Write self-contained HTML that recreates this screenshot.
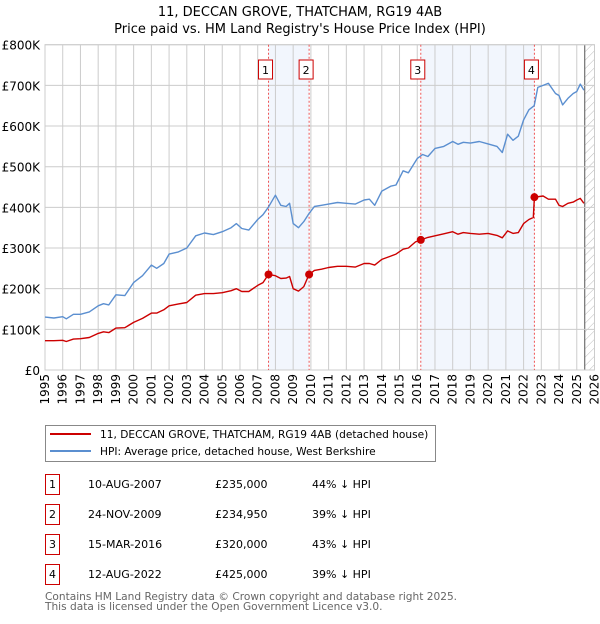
<!DOCTYPE html>
<html><head><meta charset="utf-8"><style>
body{margin:0;background:#fff;font-family:"DejaVu Sans","Liberation Sans",sans-serif}
svg text{font-family:"DejaVu Sans","Liberation Sans",sans-serif}
</style></head><body>
<svg id="chart" width="600" height="620" viewBox="0 0 600 620">
<text x="300" y="16" text-anchor="middle" font-size="13">11, DECCAN GROVE, THATCHAM, RG19 4AB</text>
<text x="300" y="33" text-anchor="middle" font-size="13">Price paid vs. HM Land Registry's House Price Index (HPI)</text>
<g id="g"></g>
<g>
<rect x="45.5" y="425.5" width="390" height="36" fill="#fff" stroke="#888"/>
<line x1="50" y1="434" x2="91" y2="434" stroke="#cc0000" stroke-width="2"/>
<text x="100" y="438" font-size="10.6">11, DECCAN GROVE, THATCHAM, RG19 4AB (detached house)</text>
<line x1="50" y1="451" x2="91" y2="451" stroke="#5b8fd0" stroke-width="2"/>
<text x="100" y="455" font-size="10.6">HPI: Average price, detached house, West Berkshire</text>
</g>
<g id="tbl" font-size="11"></g>
<text x="45" y="600" font-size="10.6" fill="#666">Contains HM Land Registry data © Crown copyright and database right 2025.</text>
<text x="45" y="610" font-size="10.6" fill="#666">This data is licensed under the Open Government Licence v3.0.</text>
</svg>
<script>
const hpiYears=[1995,1995.5,1996,1996.2,1996.6,1997,1997.5,1998,1998.3,1998.6,1999,1999.5,2000,2000.5,2001,2001.3,2001.7,2002,2002.5,2003,2003.5,2004,2004.5,2005,2005.5,2005.8,2006.1,2006.5,2007,2007.3,2007.6,2008,2008.3,2008.6,2008.8,2009,2009.3,2009.6,2009.9,2010.2,2010.6,2011,2011.5,2012,2012.5,2013,2013.3,2013.6,2014,2014.5,2014.8,2015.2,2015.5,2016,2016.3,2016.6,2017,2017.5,2018,2018.3,2018.6,2019,2019.5,2020,2020.5,2020.8,2021.1,2021.4,2021.7,2022,2022.3,2022.6,2022.8,2023.1,2023.4,2023.8,2024,2024.2,2024.5,2024.8,2025,2025.2,2025.4];
const hpiValues=[130,128,131,126,137,137,143,158,163,160,185,183,215,232,258,250,262,285,290,300,330,337,333,340,350,360,348,344,370,382,400,430,405,402,410,360,350,365,385,402,405,408,412,410,408,418,420,405,440,452,455,490,485,520,530,525,545,550,562,555,560,558,562,556,550,535,580,565,575,615,640,650,695,700,705,680,675,652,668,680,685,703,688];
const ppYears=[1995,1995.5,1996,1996.2,1996.6,1997,1997.5,1998,1998.3,1998.6,1999,1999.5,2000,2000.5,2001,2001.3,2001.7,2002,2002.5,2003,2003.5,2004,2004.5,2005,2005.5,2005.8,2006.1,2006.5,2007,2007.3,2007.61,2008,2008.3,2008.6,2008.8,2009,2009.3,2009.6,2009.9,2010.2,2010.6,2011,2011.5,2012,2012.5,2013,2013.3,2013.6,2014,2014.5,2014.8,2015.2,2015.5,2015.9,2016.2,2016.6,2017,2017.5,2018,2018.3,2018.6,2019,2019.5,2020,2020.5,2020.8,2021.1,2021.4,2021.7,2022,2022.3,2022.55,2022.61,2023.1,2023.4,2023.8,2024,2024.2,2024.5,2024.8,2025,2025.2,2025.4];
const ppValues=[72,72,73,70,76,77,80,90,94,92,103,104,117,127,140,140,148,158,162,166,184,188,188,190,195,200,193,193,208,215,235,232,225,226,230,200,194,205,235,245,248,252,255,255,253,262,262,258,272,280,285,297,300,315,320,326,330,335,340,334,338,336,334,336,331,325,342,336,338,360,370,375,425,428,420,420,405,402,410,413,418,422,410];
const saleYears=[2007.61,2009.9,2016.2,2022.61];
const saleValues=[235,234.95,320,425];
const saleDates=["10-AUG-2007","24-NOV-2009","15-MAR-2016","12-AUG-2022"];
const salePrices=["£235,000","£234,950","£320,000","£425,000"];
const saleDiffs=["44% ↓ HPI","39% ↓ HPI","43% ↓ HPI","39% ↓ HPI"];
const yTicks=[0,100,200,300,400,500,600,700,800];
const yTickLabels=["£0","£100K","£200K","£300K","£400K","£500K","£600K","£700K","£800K"];
const xTicks=[1995,1996,1997,1998,1999,2000,2001,2002,2003,2004,2005,2006,2007,2008,2009,2010,2011,2012,2013,2014,2015,2016,2017,2018,2019,2020,2021,2022,2023,2024,2025,2026];

const NS="http://www.w3.org/2000/svg";
const L=45,R=594.5,T=44.7,B=370;
const X=y=>L+(y-1995)/31*(R-L);
const Y=v=>B-v/800*(B-T);
const g=document.getElementById('g');
function mk(t,a,p){const e=document.createElementNS(NS,t);for(const k in a)e.setAttribute(k,a[k]);(p||g).appendChild(e);return e;}
for(let i=0;i<saleYears.length;i+=2){
 const e=mk('rect',{x:X(saleYears[i]),y:T,width:X(saleYears[i+1])-X(saleYears[i]),height:B-T,fill:'#f2f6fd'});
 
 
}
const defs=mk('defs',{});
const pat=mk('pattern',{id:'h',width:6,height:6,patternUnits:'userSpaceOnUse',patternTransform:'rotate(45)'},defs);
mk('line',{x1:0,y1:0,x2:0,y2:6,stroke:'#bbb','stroke-width':1},pat);
const ht=mk('rect',{x:X(2025.45),y:T,width:R-X(2025.45),height:B-T,fill:'url(#h)'});


mk('line',{x1:X(2025.45),y1:T,x2:X(2025.45),y2:B,stroke:'#555','stroke-width':1});
yTicks.forEach((v,i)=>{
 mk('line',{x1:L,x2:R,y1:Y(v),y2:Y(v),stroke:'#ccc'});
 const t=mk('text',{x:40,y:Y(v)+5,'text-anchor':'end','font-size':12});
 t.textContent=yTickLabels[i];
 
 
});
xTicks.forEach(yr=>{
 mk('line',{x1:X(yr),x2:X(yr),y1:T,y2:B,stroke:'#ccc'});
 const t=mk('text',{x:0,y:0,'text-anchor':'end','font-size':12,transform:`translate(${X(yr)+4},${B+4}) rotate(-90)`});
 t.textContent=yr;
 
 
});
mk('rect',{x:L,y:T,width:R-L,height:B-T,fill:'none',stroke:'#ccc'});
saleYears.forEach((yr,i)=>{
 mk('line',{x1:X(yr),x2:X(yr),y1:T,y2:B,stroke:'#e55','stroke-dasharray':'2,2','stroke-width':1});
 const bx=X(yr)-3;
 const r=mk('rect',{x:bx-7,y:60,width:14,height:19,fill:'#fff',stroke:'#c00'});
 
 
 const t=mk('text',{x:bx,y:74,'text-anchor':'middle','font-size':11});
 t.textContent=i+1;
});
function line(xs,vs,c,name){
 const d=xs.map((x,i)=>(i?'L':'M')+X(x).toFixed(1)+','+Y(vs[i]).toFixed(1)).join('');
 const p=mk('path',{d,fill:'none',stroke:c,'stroke-width':1.4,'stroke-linejoin':'round'});
 
 
}
line(hpiYears,hpiValues,'#5b8fd0','hpi-line');
line(ppYears,ppValues,'#cc0000','price-paid-line');
saleYears.forEach((yr,i)=>{
 const c=mk('circle',{cx:X(yr),cy:Y(saleValues[i]),r:4,fill:'#cc0000'});
 
 
});
const tb=document.getElementById('tbl');
saleDates.forEach((d,i)=>{
 const y=475+i*30;
 mk('rect',{x:45.5,y:y-0.5,width:14,height:20,fill:'#fff',stroke:'#c00'},tb);
 const n=mk('text',{x:52.5,y:y+13,'text-anchor':'middle'},tb);n.textContent=i+1;
 
 
 const a=mk('text',{x:88,y:y+13},tb);a.textContent=d;
 
 
 const b=mk('text',{x:215,y:y+13},tb);b.textContent=salePrices[i];
 
 
 const c=mk('text',{x:312,y:y+13},tb);c.textContent=saleDiffs[i];
 
 
});
</script>
</body></html>
